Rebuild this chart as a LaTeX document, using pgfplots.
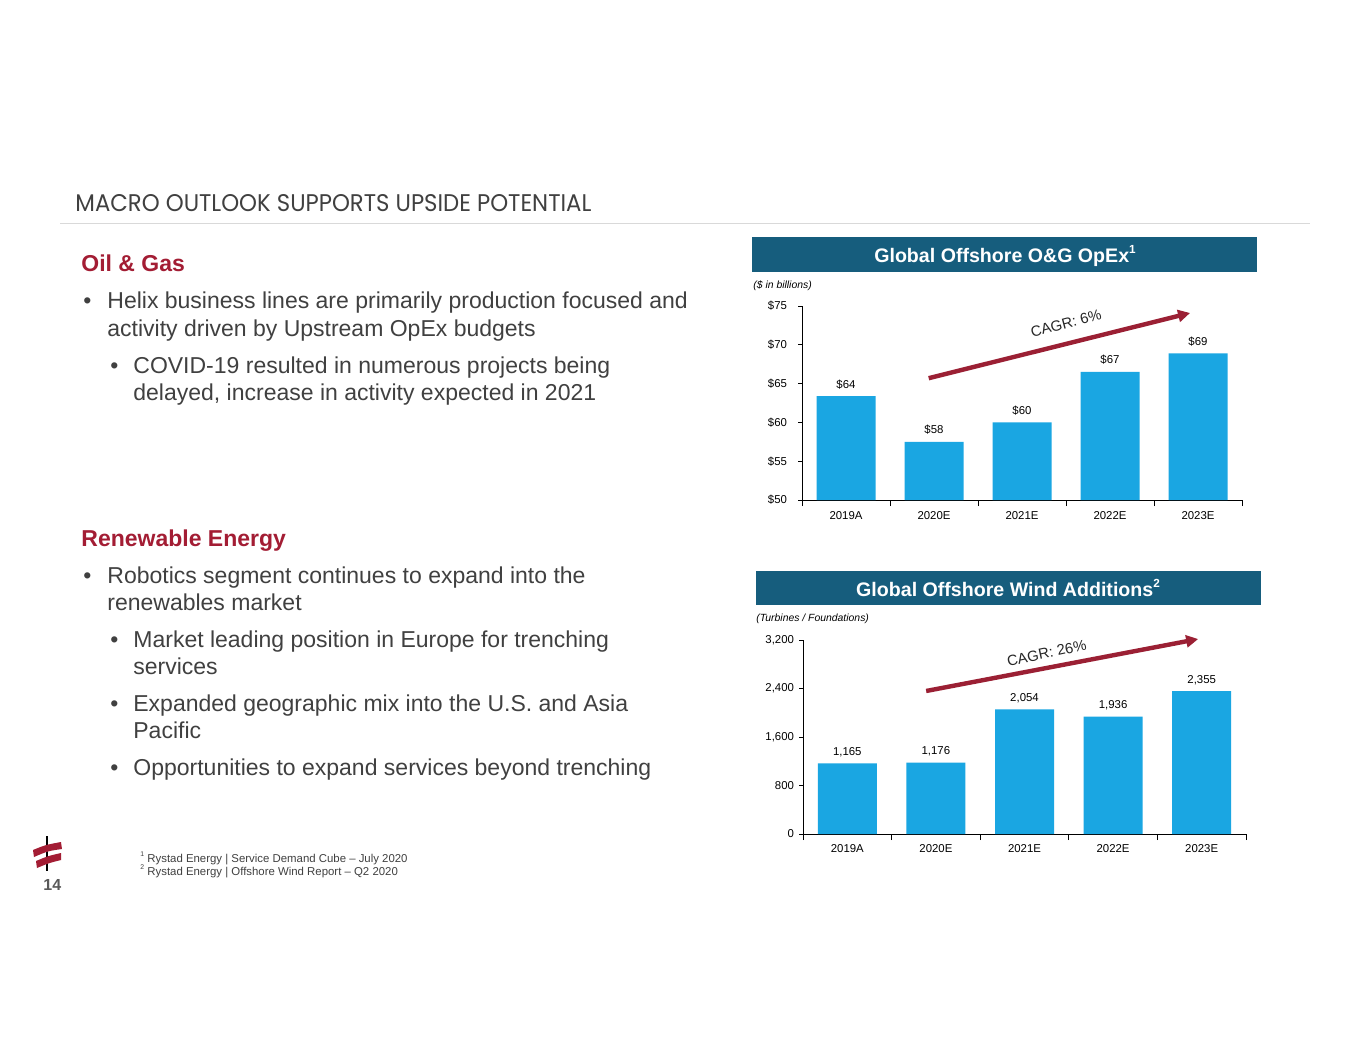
\documentclass[border=0pt]{standalone}
\usepackage{pgfplots}
\pgfplotsset{compat=1.18}
\usepackage{fontspec}
\setmainfont{Liberation Sans}
\newfontfamily\titlefont{Poppins}
\usepackage{graphicx}
\usetikzlibrary{arrows.meta}
\definecolor{hred}{RGB}{163,29,52}
\definecolor{arrowred}{RGB}{155,32,52}
\definecolor{hdr}{RGB}{22,93,125}
\definecolor{barblue}{RGB}{26,166,226}
\definecolor{txt}{RGB}{64,64,64}
\newcommand{\sups}[1]{\raisebox{0.45em}{\scalebox{0.6}{#1}}}
\pgfplotsset{
  slidechart/.style={
    scale only axis, clip=false,
    ybar, bar width=29.5pt,
    xmin=-0.5, xmax=4.5,
    axis x line*=bottom, axis y line*=left,
    axis line style={black, line width=0.5pt},
    tick align=outside,
    major tick length=2pt,
    minor tick length=3pt,
    tick style={black, line width=0.5pt},
    major x tick style={draw=none},
    xtick={0,1,2,3,4},
    minor xtick={-0.5,0.5,1.5,2.5,3.5,4.5},
    xticklabels={2019A,2020E,2021E,2022E,2023E},
    ticklabel style={font=\fontsize{5.7}{7}\selectfont, text=black},
    /pgf/number format/assume math mode=true,
    xticklabel style={yshift=0pt},
    point meta=explicit symbolic,
    nodes near coords,
    every node near coord/.append style={font=\fontsize{5.7}{7}\selectfont, text=black, anchor=base, inner sep=0pt, yshift=4pt},
  }
}
\begin{document}
\begin{tikzpicture}[x=0.5pt,y=-0.5pt]
\fill[white] (0,0) rectangle (1365,1055);
% slide title
\node[anchor=base west, inner sep=0, text=txt] at (75,211) {\resizebox{258pt}{8.5pt}{\titlefont MACRO OUTLOOK SUPPORTS UPSIDE POTENTIAL}};
\draw[black!15, line width=0.5pt] (60,223) -- (1310,223);
% left text
\begin{scope}[every node/.style={anchor=base west, inner sep=0, text=txt, font=\fontsize{11.5}{14}\selectfont}]
\node[text=hred, font=\fontsize{11.5}{14}\selectfont\bfseries] at (81,271) {Oil \& Gas};
\node at (83,308) {•};
\node at (107,308) {Helix business lines are primarily production focused and};
\node at (107,336) {activity driven by Upstream OpEx budgets};
\node at (110,373) {•};
\node at (133,373) {COVID-19 resulted in numerous projects being};
\node at (133,400) {delayed, increase in activity expected in 2021};
\node[text=hred, font=\fontsize{11.5}{14}\selectfont\bfseries] at (81,546) {Renewable Energy};
\node at (83,583) {•};
\node at (107,583) {Robotics segment continues to expand into the};
\node at (107,610) {renewables market};
\node at (110,647) {•};
\node at (133,647) {Market leading position in Europe for trenching};
\node at (133,674) {services};
\node at (110,711) {•};
\node at (133,711) {Expanded geographic mix into the U.S. and Asia};
\node at (133,738) {Pacific};
\node at (110,775) {•};
\node at (133,775) {Opportunities to expand services beyond trenching};
\end{scope}
% footnotes
\node[anchor=base west, inner sep=0, text=txt, font=\fontsize{5.7}{7}\selectfont] at (140,862) {\sups{1} Rystad Energy | Service Demand Cube – July 2020};
\node[anchor=base west, inner sep=0, text=txt, font=\fontsize{5.7}{7}\selectfont] at (140,875) {\sups{2} Rystad Energy | Offshore Wind Report – Q2 2020};
% logo and page number
\draw[black, line width=1pt] (47,836) -- (47,871);
\fill[hred] (33,850) .. controls (45,845) .. (61,842) -- (62,849) .. controls (48,851) .. (34,857) -- cycle;
\fill[hred] (36,861) .. controls (48,856) .. (61,853) -- (61,860) .. controls (49,863) .. (37,868) -- cycle;
\node[anchor=base west, inner sep=0, text=black!65, font=\fontsize{8}{9}\selectfont\bfseries] at (43,890) {14};
% chart headers
\fill[hdr] (752,237) rectangle (1257,272);
\node[anchor=base, inner sep=0, text=white, font=\fontsize{9.8}{12}\selectfont\bfseries] at (1005,262) {Global Offshore O\&G OpEx\sups{1}};
\node[anchor=base west, inner sep=0, text=black, font=\fontsize{5.2}{6}\selectfont\itshape] at (753,288) {(\$ in billions)};
\fill[hdr] (756,571) rectangle (1261,605);
\node[anchor=base, inner sep=0, text=white, font=\fontsize{9.8}{12}\selectfont\bfseries] at (1008,596) {Global Offshore Wind Additions\sups{2}};
\node[anchor=base west, inner sep=0, text=black, font=\fontsize{5.2}{6}\selectfont\itshape] at (756,621) {(Turbines / Foundations)};
% chart 1
\begin{axis}[slidechart,
  at={(401pt,-250pt)}, anchor=south west,
  width=220pt, height=97pt,
  ymin=50, ymax=75,
  ytick={50,55,60,65,70,75},
  yticklabels={\$50,\$55,\$60,\$65,\$70,\$75},
  yticklabel style={xshift=-2pt},
]
\addplot[fill=barblue, draw=none] coordinates {
  (0,63.4) [\$64]
  (1,57.5) [\$58]
  (2,60.0) [\$60]
  (3,66.5) [\$67]
  (4,68.9) [\$69]
};
\draw[arrowred, line width=2.2pt, -{Triangle[length=6pt,width=6pt]}] (axis cs:0.94,65.7) -- (axis cs:3.91,74.1);
\node[rotate=15, font=\fontsize{7.4}{8}\selectfont, text=black!85] at (axis cs:2.5,72.8) {CAGR: 6\%};
\end{axis}
% chart 2
\begin{axis}[slidechart,
  at={(401.5pt,-417pt)}, anchor=south west,
  width=221.5pt, height=97pt,
  ymin=0, ymax=3200,
  ytick={0,800,1600,2400,3200},
  yticklabels={0,800,{1,600},{2,400},{3,200}},
  yticklabel style={xshift=1pt},
  xticklabel style={yshift=0.5pt},
]
\addplot[fill=barblue, draw=none] coordinates {
  (0,1165) [1,165]
  (1,1176) [1,176]
  (2,2054) [2,054]
  (3,1936) [1,936]
  (4,2355) [2,355]
};
\draw[arrowred, line width=2.2pt, -{Triangle[length=6pt,width=6pt]}] (axis cs:0.89,2359) -- (axis cs:3.96,3216);
\node[rotate=12, font=\fontsize{7.4}{8}\selectfont, text=black!85] at (axis cs:2.25,2986) {CAGR: 26\%};
\end{axis}
\end{tikzpicture}
\end{document}
